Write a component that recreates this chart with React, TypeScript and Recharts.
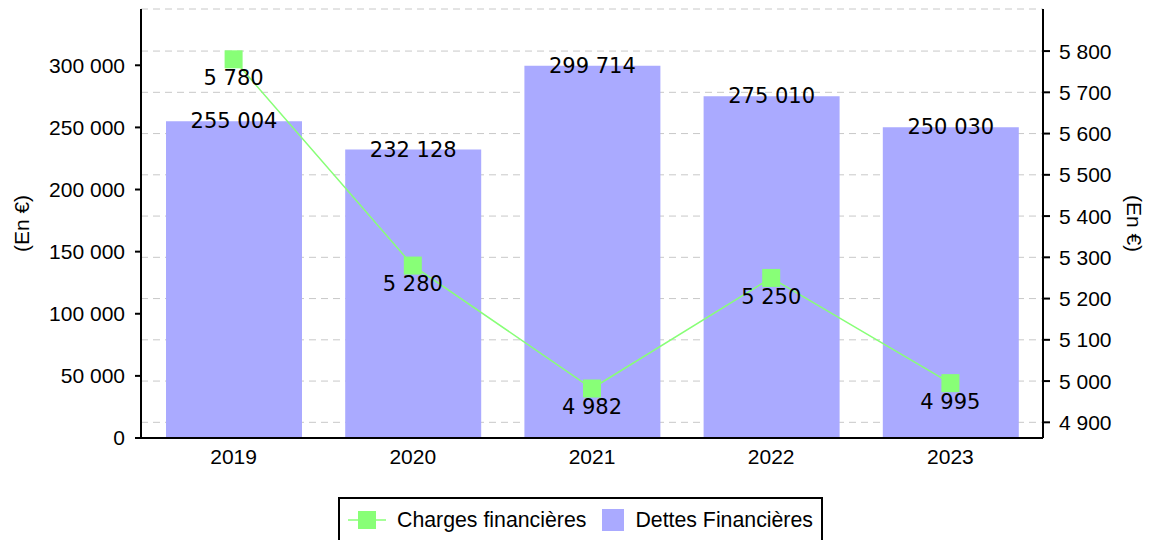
import {
  ComposedChart,
  Bar,
  Line,
  XAxis,
  YAxis,
  CartesianGrid,
  Legend,
  LabelList,
  Label,
} from "recharts";

const years = ["2019", "2020", "2021", "2022", "2023"];
const dettes = [255004, 232128, 299714, 275010, 250030];
const charges = [5780, 5280, 4982, 5250, 4995];
const leftTicks = [0, 50000, 100000, 150000, 200000, 250000, 300000];
const rightTicks = [4900, 5000, 5100, 5200, 5300, 5400, 5500, 5600, 5700, 5800];

const data = years.map((annee, i) => ({ annee, dettes: dettes[i], charges: charges[i] }));

const GREEN = "#88ff77";
const PURPLE = "#aaaaff";
const SANS = "'Liberation Sans', Arial, sans-serif";
const DEJAVU = "'DejaVu Sans', sans-serif";

const fmt = (v: any) => String(v).replace(/\B(?=(\d{3})+(?!\d))/g, " ");

const tickStyle = { fontSize: 21, fill: "#000", fontFamily: SANS };
const axisStyle = { stroke: "#000", strokeWidth: 2 };

const SquareDot = (props: any) => {
  const { cx, cy, index } = props;
  return <rect key={index} x={cx - 9} y={cy - 9} width={18} height={18} fill={GREEN} />;
};

const LegendBox = () => (
  <div
    style={{
      boxSizing: "border-box",
      width: 485,
      height: 50,
      border: "2px solid #000",
      background: "#fff",
      paddingTop: 10,
      fontFamily: SANS,
      fontSize: 21.3,
      color: "#000",
    }}
  >
    <div style={{ display: "flex", alignItems: "center", height: 22 }}>
      <svg width={38} height={22} style={{ marginLeft: 8 }}>
        <line x1={0} y1={11} x2={38} y2={11} stroke={GREEN} strokeWidth={1.5} />
        <rect x={10} y={2} width={18} height={18} fill={GREEN} />
      </svg>
      <span style={{ marginLeft: 11, lineHeight: "22px" }}>Charges financières</span>
      <svg width={22} height={22} style={{ marginLeft: 16 }}>
        <rect x={0} y={0} width={22} height={22} fill={PURPLE} />
      </svg>
      <span style={{ marginLeft: 11, lineHeight: "22px" }}>Dettes Financières</span>
    </div>
  </div>
);

export default function App() {
  return (
    <div>
      <style>{`body{margin:0;background:#fff}`}</style>
      <ComposedChart
        width={1149}
        height={540}
        data={data}
        margin={{ top: 9, right: 0, bottom: 72, left: 0 }}
      >
        <CartesianGrid
          yAxisId="right"
          vertical={false}
          stroke="#c8c8c8"
          strokeDasharray="7 5"
        />
        <XAxis
          dataKey="annee"
          height={30}
          padding={{ left: 3, right: 3 }}
          tick={tickStyle}
          tickLine={false}
          tickMargin={5}
          axisLine={axisStyle}
        />
        <YAxis
          yAxisId="left"
          orientation="left"
          width={141}
          domain={[0, 345300]}
          ticks={leftTicks}
          tickFormatter={fmt}
          tick={tickStyle}
          tickSize={6}
          tickMargin={10}
          tickLine={{ stroke: "#000", strokeWidth: 2 }}
          axisLine={axisStyle}
        >
          <Label
            value="(En €)"
            angle={-90}
            position="insideLeft"
            offset={22}
            style={{ textAnchor: "middle", fontSize: 21, fill: "#000", fontFamily: SANS }}
          />
        </YAxis>
        <YAxis
          yAxisId="right"
          orientation="right"
          width={106}
          domain={[4862, 5902]}
          ticks={rightTicks}
          tickFormatter={fmt}
          tick={tickStyle}
          tickSize={7}
          tickMargin={9}
          tickLine={{ stroke: "#000", strokeWidth: 2 }}
          axisLine={axisStyle}
        >
          <Label
            value="(En €)"
            angle={90}
            position="insideRight"
            offset={15}
            style={{ textAnchor: "middle", fontSize: 21, fill: "#000", fontFamily: SANS }}
          />
        </YAxis>
        <Legend
          layout="horizontal"
          verticalAlign="middle"
          align="center"
          wrapperStyle={{ top: 497, left: 338, width: 485, height: 50 }}
          content={() => <LegendBox />}
        />
        <Bar
          yAxisId="left"
          dataKey="dettes"
          name="Dettes Financières"
          fill={PURPLE}
          barSize={136}
          isAnimationActive={false}
        >
          <LabelList
            dataKey="dettes"
            position="insideTop"
            offset={-8}
            formatter={fmt}
            style={{ fontSize: 21, fill: "#000", fontFamily: DEJAVU }}
          />
        </Bar>
        <Line
          yAxisId="right"
          dataKey="charges"
          name="Charges financières"
          type="linear"
          stroke={GREEN}
          strokeWidth={1.5}
          dot={SquareDot}
          activeDot={false}
          isAnimationActive={false}
        >
          <LabelList
            dataKey="charges"
            position="bottom"
            offset={11}
            formatter={fmt}
            style={{ fontSize: 21, fill: "#000", fontFamily: DEJAVU }}
          />
        </Line>
      </ComposedChart>
    </div>
  );
}
